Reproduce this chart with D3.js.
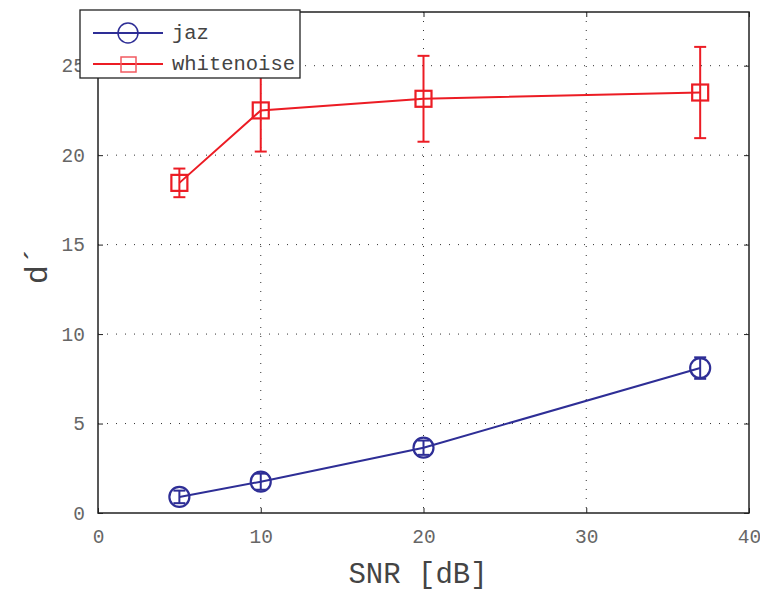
<!DOCTYPE html>
<html><head><meta charset="utf-8">
<script src="https://cdn.jsdelivr.net/npm/d3@7"></script>
<style>body{margin:0;background:#fff}svg{display:block}</style>
</head><body>
<svg id="c" width="760" height="593"></svg>
<script>
const snr = [5, 10, 20, 37];
const jazMean = [0.9, 1.75, 3.65, 8.1];
const jazErr = [0.35, 0.45, 0.4, 0.6];
const wnMean = [18.45, 22.5, 23.15, 23.5];
const wnErr = [0.8, 2.3, 2.4, 2.55];
const xTicks = [0, 10, 20, 30, 40];
const yTicks = [0, 5, 10, 15, 20, 25];

const svg = d3.select("#c");
const L = 98, R = 749, T = 12, B = 513;
const x = d3.scaleLinear().domain([0, 40]).range([L, R]);
const y = d3.scaleLinear().domain([0, 28]).range([B, T]);
const blue = "#2e2e96", red = "#ec1c24";
const font = "'Liberation Mono', 'DejaVu Sans Mono', monospace";

// grid
const g = svg.append("g");
g.selectAll(".gx").data(xTicks.filter(d => d > 0 && d < 40)).join("line")
  .attr("x1", d => x(d)).attr("x2", d => x(d)).attr("y1", T).attr("y2", B)
  .attr("stroke", "#333").attr("stroke-width", 1).attr("stroke-dasharray", "1,8");
g.selectAll(".gy").data(yTicks.filter(d => d > 0)).join("line")
  .attr("y1", d => y(d)).attr("y2", d => y(d)).attr("x1", L).attr("x2", R)
  .attr("stroke", "#333").attr("stroke-width", 1).attr("stroke-dasharray", "1,8");

// axes (inward ticks)
const ax = svg.append("g").attr("transform", `translate(0,${B})`)
  .call(d3.axisBottom(x).tickValues(xTicks).tickSize(-5).tickPadding(16));
const ax2 = svg.append("g").attr("transform", `translate(0,${T})`)
  .call(d3.axisTop(x).tickValues(xTicks).tickSize(-5).tickFormat(""));
const ay = svg.append("g").attr("transform", `translate(${L},0)`)
  .call(d3.axisLeft(y).tickValues(yTicks).tickSize(-5).tickPadding(13));
const ay2 = svg.append("g").attr("transform", `translate(${R},0)`)
  .call(d3.axisRight(y).tickValues(yTicks).tickSize(-5).tickFormat(""));
[ax, ax2, ay, ay2].forEach(a => {
  a.select(".domain").remove();
  a.selectAll(".tick line").attr("stroke", "#222").attr("stroke-width", 1);
  a.selectAll("text").attr("font-family", font)
    .attr("font-size", 19.5).attr("fill", "#666");
});
svg.append("rect").attr("x", L).attr("y", T).attr("width", R - L).attr("height", B - T)
  .attr("fill", "none").attr("stroke", "#222").attr("stroke-width", 1.5);

// series
function series(mean, err, color, marker) {
  const grp = svg.append("g");
  const line = d3.line().x((d, i) => x(snr[i])).y(d => y(d));
  grp.append("path").datum(mean).attr("d", line).attr("fill", "none")
    .attr("stroke", color).attr("stroke-width", 2);
  snr.forEach((s, i) => {
    const cx = x(s), top = y(mean[i] + err[i]), bot = y(mean[i] - err[i]);
    grp.append("line").attr("x1", cx).attr("x2", cx).attr("y1", top).attr("y2", bot)
      .attr("stroke", color).attr("stroke-width", 2);
    [top, bot].forEach(yy => grp.append("line").attr("x1", cx - 6).attr("x2", cx + 6)
      .attr("y1", yy).attr("y2", yy).attr("stroke", color).attr("stroke-width", 2));
    marker(grp, cx, y(mean[i]));
  });
}
const circ = (grp, cx, cy) => grp.append("circle").attr("cx", cx).attr("cy", cy).attr("r", 10)
  .attr("fill", "none").attr("stroke", blue).attr("stroke-width", 2.2);
const sq = (grp, cx, cy) => grp.append("rect").attr("x", cx - 8).attr("y", cy - 8)
  .attr("width", 16).attr("height", 16).attr("fill", "none").attr("stroke", red).attr("stroke-width", 2.2);
series(jazMean, jazErr, blue, circ);
series(wnMean, wnErr, red, sq);

// legend
const lg = svg.append("g");
lg.append("rect").attr("x", 80).attr("y", 10).attr("width", 220).attr("height", 68)
  .attr("fill", "#fff").attr("stroke", "#222").attr("stroke-width", 1.3);
const items = [{name: "jaz", color: blue, m: "c"}, {name: "whitenoise", color: red, m: "s"}];
items.forEach((it, i) => {
  const yy = 33 + i * 31;
  lg.append("line").attr("x1", 93).attr("x2", 163).attr("y1", yy).attr("y2", yy)
    .attr("stroke", it.color).attr("stroke-width", 2);
  if (it.m === "c") lg.append("circle").attr("cx", 128).attr("cy", yy).attr("r", 10)
    .attr("fill", "none").attr("stroke", it.color).attr("stroke-width", 1.5);
  else lg.append("rect").attr("x", 121).attr("y", yy - 7).attr("width", 15).attr("height", 15)
    .attr("fill", "none").attr("stroke", "#f25a60").attr("stroke-width", 1.5);
  lg.append("text").attr("x", 172).attr("y", yy + 6).text(it.name)
    .attr("font-family", font).attr("font-size", 20.5).attr("fill", "#444");
});

// labels
svg.append("text").attr("x", 418).attr("y", 583).attr("text-anchor", "middle")
  .attr("font-family", font).attr("font-size", 29).attr("fill", "#444").text("SNR [dB]");
svg.append("text").attr("transform", "translate(47,265) rotate(-90)").attr("text-anchor", "middle")
  .attr("font-family", font).attr("font-size", 32).attr("fill", "#444").text("d´");
</script>
</body></html>
